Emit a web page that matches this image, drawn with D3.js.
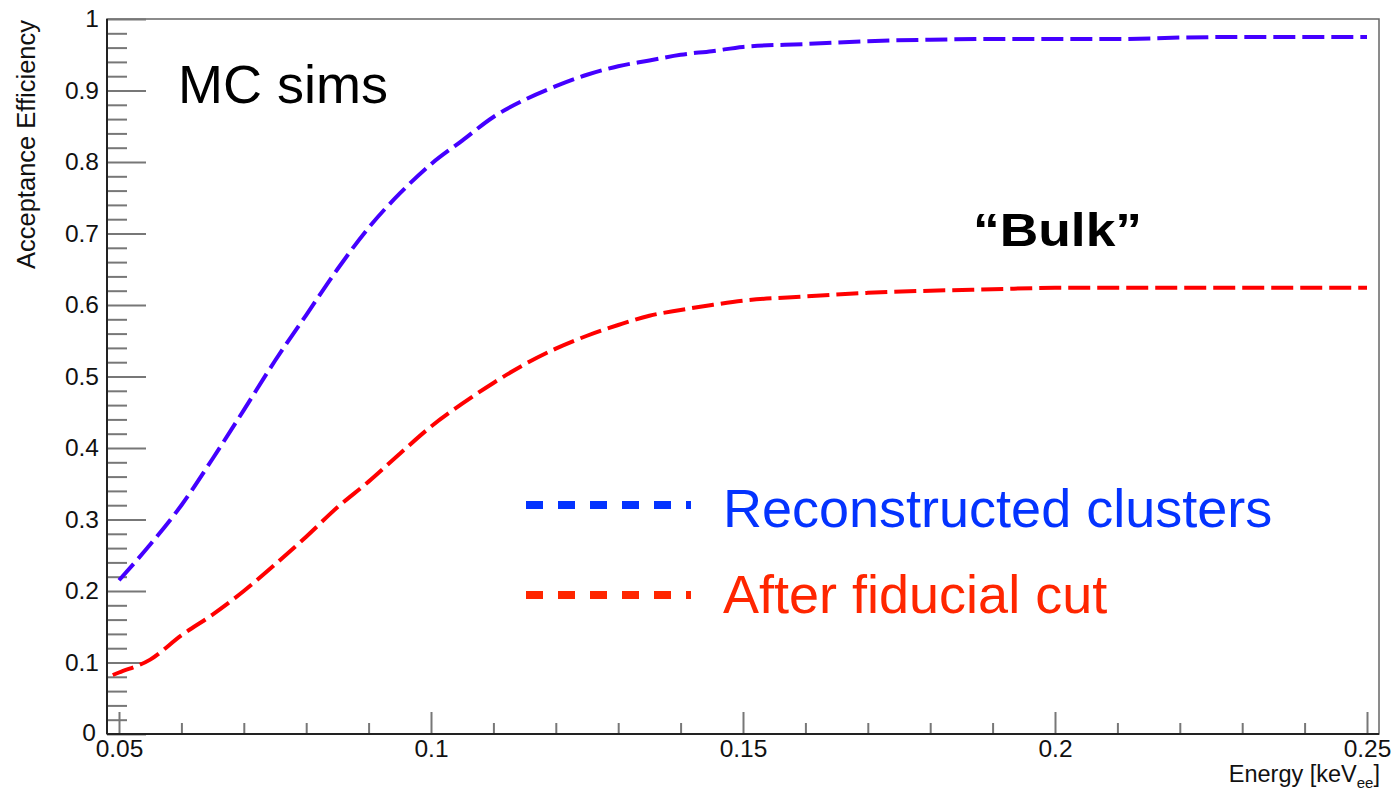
<!DOCTYPE html>
<html>
<head>
<meta charset="utf-8">
<script src="https://cdn.jsdelivr.net/npm/d3@7"></script>
<style>
  html, body { margin: 0; padding: 0; background: #fff; }
  svg { display: block; font-family: "Liberation Sans", Arial, Helvetica, sans-serif; }
</style>
</head>
<body>
<svg id="chart" width="1395" height="791"></svg>
<script>
// ---------------- data ----------------
const energyReco = [0.050, 0.055, 0.060, 0.065, 0.070, 0.075, 0.080, 0.085, 0.090, 0.095, 0.100,
  0.105, 0.110, 0.115, 0.120, 0.125, 0.130, 0.135, 0.140, 0.145, 0.150,
  0.160, 0.170, 0.180, 0.190, 0.200, 0.210, 0.220, 0.230, 0.240, 0.250];
const effReco = [0.215, 0.265, 0.320, 0.385, 0.453, 0.522, 0.586, 0.650, 0.708, 0.756, 0.797,
  0.830, 0.863, 0.887, 0.906, 0.922, 0.934, 0.942, 0.950, 0.955, 0.961,
  0.965, 0.969, 0.971, 0.972, 0.972, 0.972, 0.974, 0.975, 0.975, 0.975];

const energyFid = [0.049, 0.050, 0.055, 0.060, 0.065, 0.070, 0.075, 0.080, 0.085, 0.090, 0.095, 0.100,
  0.105, 0.110, 0.115, 0.120, 0.125, 0.130, 0.135, 0.140, 0.145, 0.150,
  0.160, 0.170, 0.180, 0.190, 0.200, 0.210, 0.220, 0.230, 0.240, 0.250];
const effFid = [0.0825, 0.086, 0.104, 0.138, 0.167, 0.200, 0.237, 0.276, 0.317, 0.353, 0.392, 0.430,
  0.462, 0.491, 0.517, 0.539, 0.557, 0.572, 0.585, 0.593, 0.600, 0.606,
  0.612, 0.617, 0.620, 0.622, 0.624, 0.624, 0.624, 0.624, 0.624, 0.624];

const xMajorTicks = [0.05, 0.10, 0.15, 0.20, 0.25];
const xTickLabels = ["0.05", "0.1", "0.15", "0.2", "0.25"];
const yMajorTicks = [0, 0.1, 0.2, 0.3, 0.4, 0.5, 0.6, 0.7, 0.8, 0.9, 1];
const yTickLabels = ["0", "0.1", "0.2", "0.3", "0.4", "0.5", "0.6", "0.7", "0.8", "0.9", "1"];
const legendLabels = ["Reconstructed clusters", "After fiducial cut"];

// ---------------- layout ----------------
const svg = d3.select("#chart");
const L = 107, R = 1379, T = 19, B = 734;
const x = d3.scaleLinear().domain([0.048077, 0.251923]).range([L, R]);
const y = d3.scaleLinear().domain([0, 1]).range([B, T]);

const xMinor = d3.range(5, 26).map(i => i / 100).filter(v => !xMajorTicks.some(m => Math.abs(m - v) < 1e-9));
const yMinor = d3.range(0, 51).map(i => i / 50).filter(v => !yMajorTicks.some(m => Math.abs(m - v) < 1e-9));

const tickColor = "#777";

// frame
svg.append("rect").attr("x", L).attr("y", T).attr("width", R - L).attr("height", B - T)
  .attr("fill", "none").attr("stroke", "#666").attr("stroke-width", 1.5);

// y ticks (inward)
const gyMinor = svg.append("g").attr("transform", `translate(${L},0)`)
  .call(d3.axisRight(y).tickValues(yMinor).tickSize(20).tickFormat(""));
const gyMajor = svg.append("g").attr("transform", `translate(${L},0)`)
  .call(d3.axisRight(y).tickValues(yMajorTicks).tickSize(39).tickFormat(""));
[gyMinor, gyMajor].forEach(g => {
  g.select(".domain").remove();
  g.selectAll("line").attr("stroke", tickColor).attr("stroke-width", 2);
});
// y labels
const gyLab = svg.append("g").attr("transform", `translate(${L},0)`)
  .call(d3.axisLeft(y).tickValues(yMajorTicks).tickSize(0).tickPadding(8)
    .tickFormat((d, i) => yTickLabels[i]));
gyLab.select(".domain").remove();
gyLab.selectAll("text").attr("font-size", 24.5).attr("fill", "#111")
  .attr("font-family", "Liberation Sans, Arial, sans-serif");
gyLab.selectAll("text").filter(d => d === 0).attr("dx", -3).attr("dy", "0.26em");

// x ticks (inward / upward)
const gxMinor = svg.append("g").attr("transform", `translate(0,${B})`)
  .call(d3.axisTop(x).tickValues(xMinor).tickSize(11).tickFormat(""));
const gxMajor = svg.append("g").attr("transform", `translate(0,${B})`)
  .call(d3.axisTop(x).tickValues(xMajorTicks).tickSize(22).tickFormat(""));
[gxMinor, gxMajor].forEach(g => {
  g.select(".domain").remove();
  g.selectAll("line").attr("stroke", tickColor).attr("stroke-width", 2);
});
const gxLab = svg.append("g").attr("transform", `translate(0,${B})`)
  .call(d3.axisBottom(x).tickValues(xMajorTicks).tickSize(0).tickPadding(6)
    .tickFormat((d, i) => xTickLabels[i]));
gxLab.select(".domain").remove();
gxLab.selectAll("text").attr("font-size", 24.5).attr("fill", "#111")
  .attr("font-family", "Liberation Sans, Arial, sans-serif");

// axis lines (dark)
svg.append("line").attr("x1", L).attr("x2", L).attr("y1", T).attr("y2", B)
  .attr("stroke", "#222").attr("stroke-width", 2);
svg.append("line").attr("x1", L).attr("x2", R).attr("y1", B).attr("y2", B)
  .attr("stroke", "#222").attr("stroke-width", 2);

// axis titles
svg.append("text")
  .attr("transform", `translate(35,${T + 1}) rotate(-90)`)
  .attr("text-anchor", "end")
  .attr("font-size", 25.5).attr("fill", "#111")
  .text("Acceptance Efficiency");

const xt = svg.append("text").attr("x", R + 1).attr("y", 782)
  .attr("text-anchor", "end").attr("font-size", 23.5).attr("fill", "#111");
xt.append("tspan").text("Energy [keV");
xt.append("tspan").attr("font-size", 15).attr("dy", 6).text("ee");
xt.append("tspan").attr("dy", -6).text("]");

// curves
const line = d3.line().curve(d3.curveMonotoneX).x(d => x(d[0])).y(d => y(d[1]));
svg.append("path")
  .datum(energyFid.map((e, i) => [e, effFid[i]]))
  .attr("d", line).attr("fill", "none")
  .attr("stroke", "#ff0000").attr("stroke-width", 4).attr("stroke-dasharray", "22,7");
svg.append("path")
  .datum(energyReco.map((e, i) => [e, effReco[i]]))
  .attr("d", line).attr("fill", "none")
  .attr("stroke", "#4400ff").attr("stroke-width", 4).attr("stroke-dasharray", "22,7");

// annotations
svg.append("text").attr("x", 178).attr("y", 103)
  .attr("font-size", 54).attr("fill", "#000").text("MC sims");
svg.append("text").attr("x", 973).attr("y", 246)
  .attr("font-size", 47).attr("font-weight", "bold").attr("fill", "#000")
  .attr("textLength", 169).attr("lengthAdjust", "spacingAndGlyphs")
  .text("\u201CBulk\u201D");

// legend
const legColors = ["#0433ff", "#ff2600"];
const legY = [505, 595];
const legTextY = [527, 613];
legendLabels.forEach((lab, i) => {
  svg.append("line").attr("x1", 526).attr("x2", 691).attr("y1", legY[i]).attr("y2", legY[i])
    .attr("stroke", legColors[i]).attr("stroke-width", 8).attr("stroke-dasharray", "17,15");
  svg.append("text").attr("x", 723).attr("y", legTextY[i])
    .attr("font-size", 54).attr("fill", legColors[i]).text(lab);
});
</script>
</body>
</html>
